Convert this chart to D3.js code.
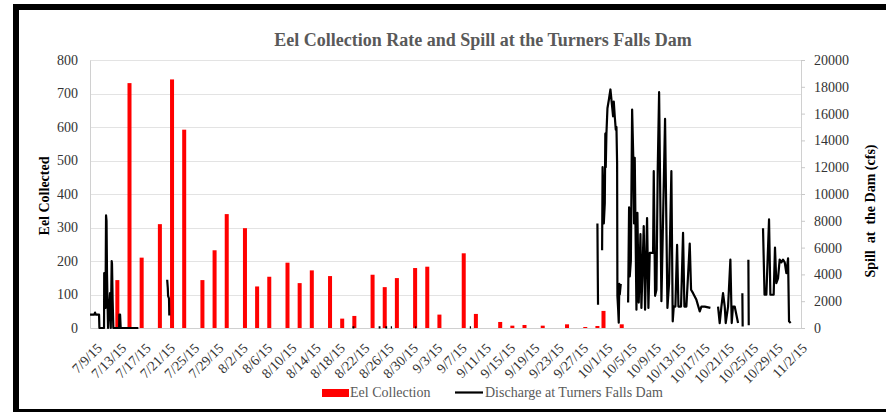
<!DOCTYPE html>
<html>
<head>
<meta charset="utf-8">
<script src="https://cdn.jsdelivr.net/npm/d3@7"></script>
<style>
  html, body { margin: 0; padding: 0; background: #fff; }
  svg { display: block; }
</style>
</head>
<body>
<svg id="chart" width="886" height="412"></svg>
<script>
// ---------------- DATA ----------------
const startDate = "2015-07-09";
const endDate = "2015-11-02";
const tickLabels = ["7/9/15","7/13/15","7/17/15","7/21/15","7/25/15","7/29/15","8/2/15","8/6/15","8/10/15","8/14/15","8/18/15","8/22/15","8/26/15","8/30/15","9/3/15","9/7/15","9/11/15","9/15/15","9/19/15","9/23/15","9/27/15","10/1/15","10/5/15","10/9/15","10/13/15","10/17/15","10/21/15","10/25/15","10/29/15","11/2/15"];
const eelDates = ["7/13","7/15","7/17","7/20","7/22","7/24","7/27","7/29","7/31","8/3","8/5","8/7","8/10","8/12","8/14","8/17","8/19","8/21","8/24","8/26","8/28","8/31","9/2","9/4","9/8","9/10","9/14","9/16","9/18","9/21","9/25","9/28","9/30","10/1","10/4"];
const eelCounts = [143,731,210,310,742,592,143,232,340,298,124,153,195,134,172,155,28,36,159,122,149,179,183,40,223,42,18,7,9,7,11,3,6,51,11];
// discharge readings: [days after 7/9/15, cfs]; null = no reading (gap)
const dischargeDay = [-0.49,0.2,0.33,0.45,0.99,1.05,1.81,1.84,1.92,2.05,2.14,2.22,2.3,2.38,2.47,2.8,2.86,2.92,3.07,3.12,3.23,3.34,4.3,4.33,4.45,4.55,7.46,
  7.6,
  12.2,12.3,12.35,12.5,12.55,
  12.7,
  42.7,43.0, 43.1, 47.0,47.3, 47.4, 48.1,48.4, 48.5, 49.0,49.2, 49.3, 53.0,53.2, 53.3, 62.0,62.2,
  62.3,
  83.0,83.05,83.1,
  83.5,
  83.77,83.85,83.94,84.05,84.21,84.3,84.37,84.48,84.65,84.87,85.14,85.36,85.58,85.69,85.85,86.02,86.13,86.24,86.29,86.4,86.51,86.6,86.68,86.84,
  87.5,
  88.05,88.21,88.32,88.5,88.71,88.9,89.03,89.14,89.42,89.58,89.8,90.08,90.24,90.62,90.84,91.17,91.39,91.61,92.16,92.27,92.49,92.71,92.93,93.15,93.53,93.8,94.13,94.52,94.79,95.17,95.39,95.56,95.83,96.11,96.33,96.76,97.09,97.31,97.64,98.19,98.41,98.74,99.29,99.84,100.11,100.66,101.59,
  102.3,
  102.85,103.12,103.4,103.67,103.95,104.11,104.5,104.88,105.1,105.3,105.59,106.14,
  106.5,
  106.85,106.9,
  107.4,
  107.84,107.9,
  109.0,
  110.25,110.5,110.8,111.24,111.46,112.0,112.22,112.44,112.72,112.99,113.27,113.54,113.82,114.09,114.37,114.53,114.8];
const dischargeCfs = [1000,1000,1150,1000,1000,0,0,4100,2600,1500,8400,8000,4000,2000,0,2600,2600,0,5000,4800,2000,0,0,1000,1000,0,0,
  null,
  3600,3000,2400,2200,940,
  null,
  50,50, null, 50,50, null, 50,50, null, 50,50, null, 50,50, null, 50,50,
  null,
  7800,4500,1740,
  null,
  5800,12000,10300,7800,9300,14500,12000,14500,16400,17000,17800,16800,15800,16900,15800,14800,15000,12300,2400,1500,400,3300,2500,3300,
  null,
  1900,9000,3850,5000,16300,12700,7800,12700,1370,8600,1900,7000,1500,7600,1370,8200,1500,5600,5600,11700,2400,2860,12000,17600,2000,8100,15600,1500,3350,11700,500,1600,1600,6200,1600,1600,7100,1600,1600,6300,2860,2600,2100,1240,1600,1600,1500,
  null,
  1600,370,1600,2600,1600,370,1600,5100,370,1600,1600,370,
  null,
  2600,120,
  null,
  5100,200,
  null,
  7450,2480,2480,8100,2480,2480,6000,3350,3700,5100,4900,5100,4900,4100,5200,500,370];
const leftTicks = [0,100,200,300,400,500,600,700,800];
const rightTicks = [0,2000,4000,6000,8000,10000,12000,14000,16000,18000,20000];

// ---------------- LAYOUT ----------------
const SERIF = '"Liberation Serif", "Times New Roman", serif';
const svg = d3.select("#chart");
const W = 886, H = 412;
const plot = {left: 90, right: 801, top: 60, bottom: 328};

const parse = d3.timeParse("%Y-%m-%d");
const fmt = d3.timeFormat("%-m/%-d/%y");
const fmtMD = d3.timeFormat("%-m/%-d");
const days = d3.timeDay.range(parse(startDate), d3.timeDay.offset(parse(endDate), 1));
const categories = days.map(fmt);
const mdToCat = {};
days.forEach((d) => { mdToCat[fmtMD(d)] = fmt(d); });

const x = d3.scaleBand().domain(categories).range([plot.left, plot.right]).paddingInner(0.34).paddingOuter(0.17);
const xDay = d3.scaleLinear().domain([0, categories.length - 1])
  .range([x(categories[0]) + x.bandwidth() / 2, x(categories[categories.length - 1]) + x.bandwidth() / 2]);
const yL = d3.scaleLinear().domain([0, 800]).range([plot.bottom, plot.top]);
const yR = d3.scaleLinear().domain([0, 20000]).range([plot.bottom, plot.top]);

// background & frame
svg.append("rect").attr("x", 0).attr("y", 0).attr("width", W).attr("height", H).attr("fill", "#fff");
svg.append("rect").attr("x", 16).attr("y", 7).attr("width", 900).attr("height", 405)
  .attr("fill", "none").attr("stroke", "#000").attr("stroke-width", 6);

// gridlines
svg.append("g").selectAll("line").data(leftTicks.filter(t => t > 0)).join("line")
  .attr("x1", plot.left).attr("x2", plot.right)
  .attr("y1", d => Math.round(yL(d)) + 0.5).attr("y2", d => Math.round(yL(d)) + 0.5)
  .attr("stroke", "#e3e3e3").attr("stroke-width", 1);

// left axis
const gL = svg.append("g").attr("transform", `translate(${plot.left},0)`)
  .call(d3.axisLeft(yL).tickValues(leftTicks).tickSize(0).tickPadding(12).tickFormat(d3.format("d")));
gL.select(".domain").attr("stroke", "#d0d0d0");
gL.selectAll("text").style("font-family", SERIF).style("font-size", "14px").attr("fill", "#333");

// right axis
const gR = svg.append("g").attr("transform", `translate(${plot.right},0)`)
  .call(d3.axisRight(yR).tickValues(rightTicks).tickSize(4).tickPadding(9).tickFormat(d3.format("d")));
gR.select(".domain").attr("stroke", "#d0d0d0");
gR.selectAll(".tick line").attr("stroke", "#c8c8c8");
gR.selectAll("text").style("font-family", SERIF).style("font-size", "14px").attr("fill", "#333");

// bottom axis
const gB = svg.append("g").attr("transform", `translate(0,${plot.bottom})`)
  .call(d3.axisBottom(x).tickValues(tickLabels).tickSize(0).tickFormat(d => d));
gB.select(".domain").attr("stroke", "#d0d0d0");
gB.selectAll("text")
  .style("font-family", SERIF).style("font-size", "14px").attr("fill", "#333")
  .attr("text-anchor", "end")
  .attr("transform", "translate(3,14) rotate(-45)")
  .attr("dy", "0.7em").attr("y", 0).attr("x", 0);

// bars
svg.append("g").selectAll("rect").data(eelDates.map((d, i) => ({cat: mdToCat[d], v: eelCounts[i]}))).join("rect")
  .attr("x", d => x(d.cat)).attr("width", x.bandwidth())
  .attr("y", d => yL(d.v)).attr("height", d => yL(0) - yL(d.v))
  .attr("fill", "#ff0000");

// discharge line
const pts = dischargeDay.map((d, i) => [d, dischargeCfs[i]]);
svg.append("path").datum(pts)
  .attr("d", d3.line().defined(d => d[1] !== null).x(d => xDay(d[0])).y(d => yR(d[1])))
  .attr("fill", "none").attr("stroke", "#000").attr("stroke-width", 2.2).attr("stroke-linejoin", "round");

// title
svg.append("text").attr("x", 483).attr("y", 46).attr("text-anchor", "middle")
  .style("font-family", SERIF).style("font-size", "18px").attr("font-weight", "bold").attr("fill", "#595959")
  .text("Eel Collection Rate and Spill at the Turners Falls Dam");

// axis titles
svg.append("text").attr("transform", "translate(49,196) rotate(-90)").attr("text-anchor", "middle")
  .style("font-family", SERIF).style("font-size", "14px").attr("font-weight", "bold").attr("fill", "#000").text("Eel Collected");
svg.append("text").attr("transform", "translate(875,211) rotate(-90)").attr("text-anchor", "middle")
  .style("font-family", SERIF).style("font-size", "14px").attr("font-weight", "bold").attr("fill", "#000")
  .style("white-space", "pre").text("Spill  at  the Dam (cfs)");

// legend
const lg = svg.append("g");
lg.append("rect").attr("x", 322).attr("y", 389).attr("width", 27).attr("height", 8).attr("fill", "#ff0000");
lg.append("text").attr("x", 350).attr("y", 397).style("font-family", SERIF).style("font-size", "14px").attr("fill", "#595959").text("Eel Collection");
lg.append("line").attr("x1", 455).attr("x2", 483).attr("y1", 392.5).attr("y2", 392.5).attr("stroke", "#000").attr("stroke-width", 2.2);
lg.append("text").attr("x", 485).attr("y", 397).style("font-family", SERIF).style("font-size", "14px").attr("fill", "#595959").text("Discharge at Turners Falls Dam");
</script>
</body>
</html>
